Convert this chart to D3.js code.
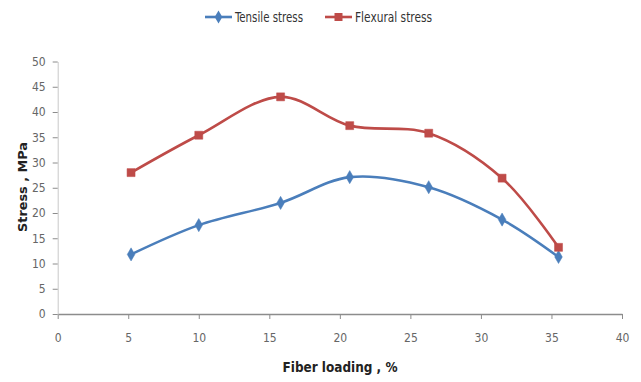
<!DOCTYPE html>
<html><head><meta charset="utf-8">
<script src="https://cdn.jsdelivr.net/npm/d3@7"></script>
<style>
body{margin:0;background:#fff;}
svg text{font-family:"Liberation Sans Narrow","Arial Narrow","DejaVu Sans Condensed",sans-serif;}
</style></head>
<body><svg id="c" width="641" height="382"></svg>
<script>
const fiberLoading = [5.2, 10, 15.8, 20.7, 26.3, 31.5, 35.5];
const tensileStress = [11.8, 17.6, 22.0, 27.1, 25.1, 18.7, 11.3];
const flexuralStress = [28.0, 35.4, 43.0, 37.3, 35.8, 26.9, 13.2];
const xTicks = [0, 5, 10, 15, 20, 25, 30, 35, 40];
const yTicks = [0, 5, 10, 15, 20, 25, 30, 35, 40, 45, 50];
const seriesNames = ["Tensile stress", "Flexural stress"];
const colors = ["#4a7ebb", "#be4b48"];

const svg = d3.select("#c");
const x = d3.scaleLinear().domain([0, 40]).range([57.7, 622]);
const y = d3.scaleLinear().domain([0, 50]).range([314, 61.5]);

const axisColor = "#8c8c8c";
const labelColor = "#666";

// x axis
const gx = svg.append("g").attr("transform", `translate(0,${y(0)})`)
  .call(d3.axisBottom(x).tickValues(xTicks).tickSize(5).tickSizeOuter(0).tickPadding(14));
gx.select(".domain").attr("stroke", axisColor).attr("stroke-width", 1.5);
gx.selectAll(".tick line").attr("stroke", axisColor);
gx.selectAll("text").attr("fill", labelColor).style("font-size", "12px");

// y axis
const gy = svg.append("g").attr("transform", `translate(${x(0)},0)`)
  .call(d3.axisLeft(y).tickValues(yTicks).tickSize(5).tickSizeOuter(0).tickPadding(7));
gy.select(".domain").attr("stroke", "#c8c8c8").attr("stroke-width", 1);
gy.selectAll(".tick line").attr("stroke", axisColor);
gy.selectAll("text").attr("fill", labelColor).style("font-size", "12px");

// titles
svg.append("text").attr("x", 340).attr("y", 372).attr("text-anchor", "middle")
  .style("font-size", "14px").style("font-weight", "bold").attr("fill", "#222")
  .attr("textLength", 115).attr("lengthAdjust", "spacingAndGlyphs")
  .text("Fiber loading , %");
svg.append("text").attr("transform", "translate(27,187) rotate(-90)").attr("text-anchor", "middle")
  .style("font-size", "13px").style("font-weight", "bold").attr("fill", "#222")
  .attr("textLength", 90).attr("lengthAdjust", "spacingAndGlyphs")
  .text("Stress , MPa");

const series = [tensileStress, flexuralStress];
const line = d3.line().x(d => x(d[0])).y(d => y(d[1])).curve(d3.curveCatmullRom.alpha(0.5));

const diamond = d3.symbol().type(d3.symbolDiamond).size(50);
const square = d3.symbol().type(d3.symbolSquare).size(64);

series.forEach((vals, i) => {
  const pts = fiberLoading.map((fx, j) => [fx, vals[j]]);
  svg.append("path").datum(pts).attr("d", line).attr("fill", "none")
    .attr("stroke", colors[i]).attr("stroke-width", 2.6);
  svg.append("g").selectAll("path").data(pts).join("path")
    .attr("transform", d => `translate(${x(d[0])},${y(d[1])})`)
    .attr("d", i === 0 ? diamond : square)
    .attr("fill", colors[i]).attr("stroke", colors[i]).attr("stroke-width", 0.5);
});

// legend
const legendItems = [{x: 205, w: 68, name: seriesNames[0]}, {x: 325, w: 77, name: seriesNames[1]}];
legendItems.forEach((it, i) => {
  const g = svg.append("g").attr("transform", `translate(${it.x},17)`);
  g.append("line").attr("x1", 0).attr("x2", 27).attr("y1", 0).attr("y2", 0)
    .attr("stroke", colors[i]).attr("stroke-width", 2.6);
  g.append("path").attr("transform", "translate(13.5,0)")
    .attr("d", i === 0 ? diamond : square).attr("fill", colors[i]);
  g.append("text").attr("x", 30).attr("y", 5).style("font-size", "14px")
    .attr("textLength", it.w).attr("lengthAdjust", "spacingAndGlyphs")
    .attr("fill", "#333").text(it.name);
});
</script>
</body></html>
